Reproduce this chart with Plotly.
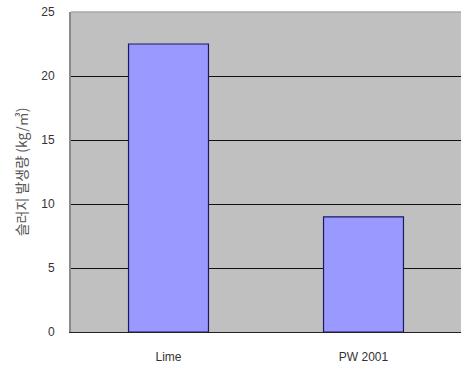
import plotly.graph_objects as go

categories = ["Lime", "PW 2001"]
values = [22.5, 9.0]
y_ticks = [0, 5, 10, 15, 20, 25]

fig = go.Figure()
fig.add_trace(go.Bar(
    x=categories, y=values,
    marker=dict(color="#9999FF", line=dict(color="#1a1a60", width=1.2)),
    width=0.41,
))

fig.update_layout(
    width=462, height=369,
    margin=dict(l=71, r=1, t=12, b=37, autoexpand=False),
    paper_bgcolor="white",
    plot_bgcolor="#C0C0C0",
    showlegend=False,
    font=dict(family="Liberation Sans, DejaVu Sans", size=12, color="#333333"),
    xaxis=dict(
        showgrid=False, showline=True, linecolor="#222222", linewidth=1,
        ticks="outside", ticklen=14, tickcolor="rgba(0,0,0,0)",
        tickfont=dict(size=12, color="#333333"),
    ),
    yaxis=dict(
        range=[0, 25], tickvals=y_ticks, showgrid=True, gridcolor="#111111",
        gridwidth=1, zeroline=False, showline=True, linecolor="#8a8a8a",
        linewidth=2, ticks="outside", ticklen=12, tickcolor="rgba(0,0,0,0)",
        tickfont=dict(size=12, color="#333333"),
        title=dict(text="슬러지 발생량 (kg/㎥)",
                   font=dict(family="Noto Sans CJK KR", size=14, color="#555555"),
                   standoff=10),
    ),
    shapes=[dict(type="line", xref="paper", yref="paper", x0=0, x1=1, y0=1, y1=1,
                 line=dict(color="#a8a8a8", width=1.5))],
)

fig.write_html("out.html", config={"displayModeBar": False},
               post_script="document.body.style.margin='0';")
